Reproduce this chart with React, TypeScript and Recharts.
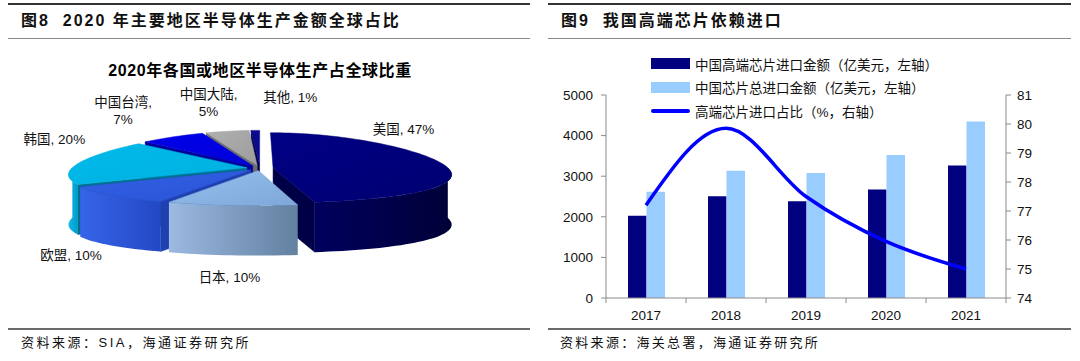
import React from 'react';
import { PieChart, Pie, ComposedChart, Bar, Line, XAxis, YAxis, Legend } from 'recharts';

// left panel: share of global semiconductor production, 2020
const regions = ['美国', '日本', '欧盟', '韩国', '中国台湾', '中国大陆', '其他'];
const regionShares = [47, 10, 10, 20, 7, 5, 1];

// right panel: chip imports
const years = ['2017', '2018', '2019', '2020', '2021'];
const highEndImport = [2023, 2508, 2385, 2673, 3265];
const totalImport = [2615, 3133, 3076, 3520, 4350];
const highEndShare = [77.2, 79.85, 77.5, 75.95, 75.0];

const leftTicks = [0, 1000, 2000, 3000, 4000, 5000];
const rightTicks = [74, 75, 76, 77, 78, 79, 80, 81];

const seriesNames = [
  '中国高端芯片进口金额（亿美元，左轴）',
  '中国芯片总进口金额（亿美元，左轴）',
  '高端芯片进口占比（%，右轴）',
];

// pie styling
const topLight = ['#000086', '#94BFEE', '#3262E6', '#00BAEA', '#0000EA', '#B0B0B0', '#0A0A8C'];
const topDark = ['#000070', '#7FA8D8', '#2A52D4', '#00B0E0', '#0000D8', '#9C9C9C', '#0A0A8C'];
const wallLight = ['#00005E', '#9CBAE2', '#3664E8', '#10BCEA', '#0000C0', '#909090', '#000070'];
const wallDark = ['#000038', '#62809F', '#2448C4', '#0098C8', '#0000A0', '#7A7A7A', '#000050'];
const edgeColors = ['#000046', '#6684AC', '#1F40B0', '#00708F', '#00009A', '#6E6E6E', '#00004A'];
const labelShift = [[-40, -35], [-2, 72], [-40, 60], [-24, -24], [-50, -26], [-19, -28], [35, -33]];
const labelWrap = [false, false, false, false, true, true, false];

const RAD = Math.PI / 180;
const TILT = 0.2;
const PERSP = 0.2;
const EXPLODE = 0.075;
const DEPTH = 50;

const latinCjk = "'Liberation Sans', Arial, 'Noto Sans CJK SC', sans-serif";
const axisColor = '#8a8a8a';

const pieData = regions.map((name, i) => ({ name, value: regionShares[i] }));
const chartData = years.map((year, i) => ({
  year,
  highEnd: highEndImport[i],
  total: totalImport[i],
  share: highEndShare[i],
}));

// back slices first so front ones paint over them
const pieTotal = regionShares.reduce((a, b) => a + b, 0);
const midAngles = (() => {
  let acc = 0;
  return regionShares.map((v) => {
    const s = 90 - (acc / pieTotal) * 360;
    acc += v;
    const e = 90 - (acc / pieTotal) * 360;
    return (s + e) / 2;
  });
})();
const drawOrder = midAngles
  .map((m, i) => ({ i, d: Math.sin(m * RAD) }))
  .sort((a, b) => b.d - a.d)
  .map((o) => o.i);

type Pt = [number, number];
const toPath = (pts: Pt[]) =>
  'M' + pts.map((p) => p[0].toFixed(2) + ',' + p[1].toFixed(2)).join('L') + 'Z';

const projector = (cx: number, cy: number, R: number) => (u: number, v: number, drop: number): Pt => [
  cx + R * u * (1 - PERSP * v),
  cy - R * TILT * v + drop,
];

function sliceGeometry(props: any) {
  const { cx, cy, outerRadius: R, startAngle, endAngle, midAngle } = props;
  const project = projector(cx, cy, R);
  const ox = EXPLODE * Math.cos(midAngle * RAD);
  const oy = EXPLODE * Math.sin(midAngle * RAD);
  const rim = (a: number, drop: number) => project(ox + Math.cos(a * RAD), oy + Math.sin(a * RAD), drop);
  const apex = (drop: number) => project(ox, oy, drop);
  const arc = (a0: number, a1: number, drop: number) => {
    const n = Math.max(2, Math.ceil(Math.abs(a1 - a0) / 2));
    return Array.from({ length: n + 1 }, (_, i) => rim(a0 + ((a1 - a0) * i) / n, drop));
  };

  const top: Pt[] = [apex(0), ...arc(startAngle, endAngle, 0)];

  const walls: Pt[][] = [];
  const lo = Math.min(startAngle, endAngle);
  const hi = Math.max(startAngle, endAngle);
  for (let k = -2; k <= 1; k++) {
    const a0 = Math.max(lo, -180 + 360 * k);
    const a1 = Math.min(hi, 360 * k);
    if (a1 > a0) walls.push([...arc(a0, a1, 0), ...arc(a1, a0, DEPTH)]);
  }

  const dir = Math.sign(endAngle - startAngle) || -1;
  const sides: Pt[][] = [];
  [
    [startAngle, startAngle - 90 * dir],
    [endAngle, endAngle + 90 * dir],
  ].forEach(([a, n]) => {
    if (Math.sin(n * RAD) < -0.01) sides.push([apex(0), rim(a, 0), rim(a, DEPTH), apex(DEPTH)]);
  });

  return { top, walls, sides };
}

const renderSlice = (k: number) => (props: any) => {
  if (props.index !== k) return null;
  const g = sliceGeometry(props);
  const wid = `pie-wall-${k}`;
  const tid = `pie-top-${k}`;
  return (
    <g key={`slice-${k}`}>
      <defs>
        <linearGradient id={wid} x1="0" y1="0" x2="1" y2="0">
          <stop offset="0" stopColor={wallLight[k]} />
          <stop offset="1" stopColor={wallDark[k]} />
        </linearGradient>
        <linearGradient id={tid} x1="0" y1="0" x2="1" y2="1">
          <stop offset="0" stopColor={topLight[k]} />
          <stop offset="1" stopColor={topDark[k]} />
        </linearGradient>
      </defs>
      {g.sides.map((s, i) => (
        <path key={`s${i}`} d={toPath(s)} fill={edgeColors[k]} stroke={edgeColors[k]} strokeWidth={0.5} />
      ))}
      {g.walls.map((w, i) => (
        <path key={`w${i}`} d={toPath(w)} fill={`url(#${wid})`} />
      ))}
      <path d={toPath(g.top)} fill={`url(#${tid})`} stroke={topDark[k]} strokeWidth={0.5} />
    </g>
  );
};

const renderPieLabel = (props: any) => {
  const { index, midAngle, cx, cy, outerRadius: R } = props;
  const project = projector(cx, cy, R);
  const [ax, ay] = project((1 + EXPLODE) * Math.cos(midAngle * RAD), (1 + EXPLODE) * Math.sin(midAngle * RAD), 0);
  const x = ax + labelShift[index][0];
  const y = ay + labelShift[index][1];
  const name = regions[index];
  const pct = `${regionShares[index]}%`;
  const common = { textAnchor: 'middle' as const, fontSize: 13.5, fill: '#111', fontFamily: latinCjk };
  if (labelWrap[index]) {
    return (
      <text key={`lbl-${index}`} x={x} y={y} {...common}>
        <tspan x={x} dy={-4}>{`${name},`}</tspan>
        <tspan x={x} dy={17}>{pct}</tspan>
      </text>
    );
  }
  return (
    <text key={`lbl-${index}`} x={x} y={y} dy={5} {...common}>
      {`${name}, ${pct}`}
    </text>
  );
};

const YearTick = (props: any) => {
  const { x, y, payload, index, width, visibleTicksCount } = props;
  const half = payload && payload.offset ? payload.offset : width / visibleTicksCount / 2;
  const axisY = y - 12;
  return (
    <g>
      <line x1={x - half} x2={x - half} y1={axisY} y2={axisY + 5} stroke={axisColor} />
      {index === visibleTicksCount - 1 && (
        <line x1={x + half} x2={x + half} y1={axisY} y2={axisY + 5} stroke={axisColor} />
      )}
      <text x={x} y={y} dy="0.75em" textAnchor="middle" fontSize={13.5} fill="#111" fontFamily={latinCjk}>
        {payload.value}
      </text>
    </g>
  );
};

const renderLegend = (props: any) => {
  const items = [...(props.payload || [])].sort(
    (a: any, b: any) => seriesNames.indexOf(a.value) - seriesNames.indexOf(b.value)
  );
  return (
    <div style={{ fontFamily: latinCjk, fontSize: 13.5, color: '#111' }}>
      {items.map((entry: any, i: number) => (
        <div key={i} style={{ display: 'flex', alignItems: 'center', height: 23.5, whiteSpace: 'nowrap' }}>
          {entry.type === 'line' ? (
            <div style={{ width: 39, height: 4, background: entry.color, borderRadius: 2 }} />
          ) : (
            <div style={{ width: 39, height: 11, background: entry.color }} />
          )}
          <span style={{ marginLeft: 5 }}>{entry.value}</span>
        </div>
      ))}
    </div>
  );
};

const Rule = ({ x1, x2, y, h, color }: { x1: number; x2: number; y: number; h: number; color: string }) => (
  <div style={{ position: 'absolute', left: x1, top: y, width: x2 - x1, height: h, background: color }} />
);

const Caption = ({ x, y, children, bold, size, spacing }: any) => (
  <div
    style={{
      position: 'absolute',
      left: x,
      top: y,
      lineHeight: '20px',
      fontSize: size,
      fontWeight: bold ? 700 : 400,
      letterSpacing: spacing,
      fontFamily: latinCjk,
      color: '#111',
      whiteSpace: 'pre',
    }}
  >
    {children}
  </div>
);

export default function App() {
  return (
    <div style={{ position: 'fixed', left: 0, top: 0, width: 1080, height: 361, background: '#fff', overflow: 'hidden' }}>
      {/* panel frames */}
      <Rule x1={8} x2={530} y={3} h={2} color="#333" />
      <Rule x1={548} x2={1071} y={3} h={2} color="#333" />
      <Rule x1={8} x2={530} y={37.5} h={1.5} color="#8a8a8a" />
      <Rule x1={548} x2={1071} y={37.5} h={1.5} color="#8a8a8a" />
      <Rule x1={8} x2={530} y={327.5} h={2} color="#6a6a6a" />
      <Rule x1={548} x2={1071} y={327.5} h={2} color="#6a6a6a" />

      <Caption x={21} y={11} bold size={16} spacing={2}>{'图8  2020 年主要地区半导体生产金额全球占比'}</Caption>
      <Caption x={561} y={11} bold size={16} spacing={2}>{'图9  我国高端芯片依赖进口'}</Caption>
      <Caption x={21} y={333} size={13} spacing={2.5}>{'资料来源：SIA，海通证券研究所'}</Caption>
      <Caption x={560} y={333} size={13} spacing={2.3}>{'资料来源：海关总署，海通证券研究所'}</Caption>

      {/* left: 3D-style exploded pie */}
      <div
        style={{
          position: 'absolute',
          left: 0,
          top: 61,
          width: 530,
          textAlign: 'center',
          fontFamily: latinCjk,
          fontWeight: 700,
          fontSize: 16,
          letterSpacing: 0.6,
          lineHeight: '20px',
          color: '#000',
        }}
      >
        <span style={{ position: 'relative', left: -5 }}>2020年各国或地区半导体生产占全球比重</span>
      </div>
      <div style={{ position: 'absolute', left: 0, top: 40 }}>
        <PieChart width={530} height={285} margin={{ top: 0, right: 0, bottom: 0, left: 0 }}>
          {drawOrder.map((k) => (
            <Pie
              key={`pie-${k}`}
              data={pieData}
              dataKey="value"
              nameKey="name"
              cx={260}
              cy={128}
              outerRadius={175}
              startAngle={90}
              endAngle={-270}
              fill="none"
              stroke="none"
              labelLine={false}
              label={renderSlice(k)}
              isAnimationActive={false}
            />
          ))}
          <Pie
            key="pie-labels"
            data={pieData}
            dataKey="value"
            nameKey="name"
            cx={260}
            cy={128}
            outerRadius={175}
            startAngle={90}
            endAngle={-270}
            fill="none"
            stroke="none"
            labelLine={false}
            label={renderPieLabel}
            isAnimationActive={false}
          />
        </PieChart>
      </div>

      {/* right: bars + share line */}
      <div style={{ position: 'absolute', left: 540, top: 40 }}>
        <ComposedChart
          width={540}
          height={285}
          data={chartData}
          margin={{ top: 55, right: 34, bottom: 2, left: 16 }}
          barGap={0}
        >
          <XAxis
            dataKey="year"
            height={25}
            interval={0}
            axisLine={{ stroke: axisColor }}
            tickLine={false}
            tickSize={5}
            tickMargin={7}
            tick={YearTick}
          />
          <YAxis
            yAxisId="left"
            width={50}
            domain={[0, 5000]}
            ticks={leftTicks}
            interval={0}
            axisLine={{ stroke: axisColor }}
            tickLine={{ stroke: axisColor }}
            tickSize={5}
            tickMargin={8}
            tick={{ fill: '#111', fontSize: 13.5, fontFamily: latinCjk }}
          />
          <YAxis
            yAxisId="right"
            orientation="right"
            width={40}
            domain={[74, 81]}
            ticks={rightTicks}
            interval={0}
            axisLine={{ stroke: axisColor }}
            tickLine={{ stroke: axisColor }}
            tickSize={5}
            tickMargin={6}
            tick={{ fill: '#111', fontSize: 13.5, fontFamily: latinCjk }}
          />
          <Legend
            layout="vertical"
            align="center"
            verticalAlign="middle"
            content={renderLegend}
            wrapperStyle={{ left: 111, top: 12, width: 340, height: 72 }}
          />
          <Bar yAxisId="left" dataKey="highEnd" name={seriesNames[0]} fill="#000080" barSize={18.5} isAnimationActive={false} />
          <Bar yAxisId="left" dataKey="total" name={seriesNames[1]} fill="#99CCFF" barSize={18.5} isAnimationActive={false} />
          <Line
            yAxisId="right"
            dataKey="share"
            name={seriesNames[2]}
            type="monotone"
            stroke="#0000FF"
            strokeWidth={3.5}
            dot={false}
            legendType="line"
            isAnimationActive={false}
          />
        </ComposedChart>
      </div>
    </div>
  );
}
